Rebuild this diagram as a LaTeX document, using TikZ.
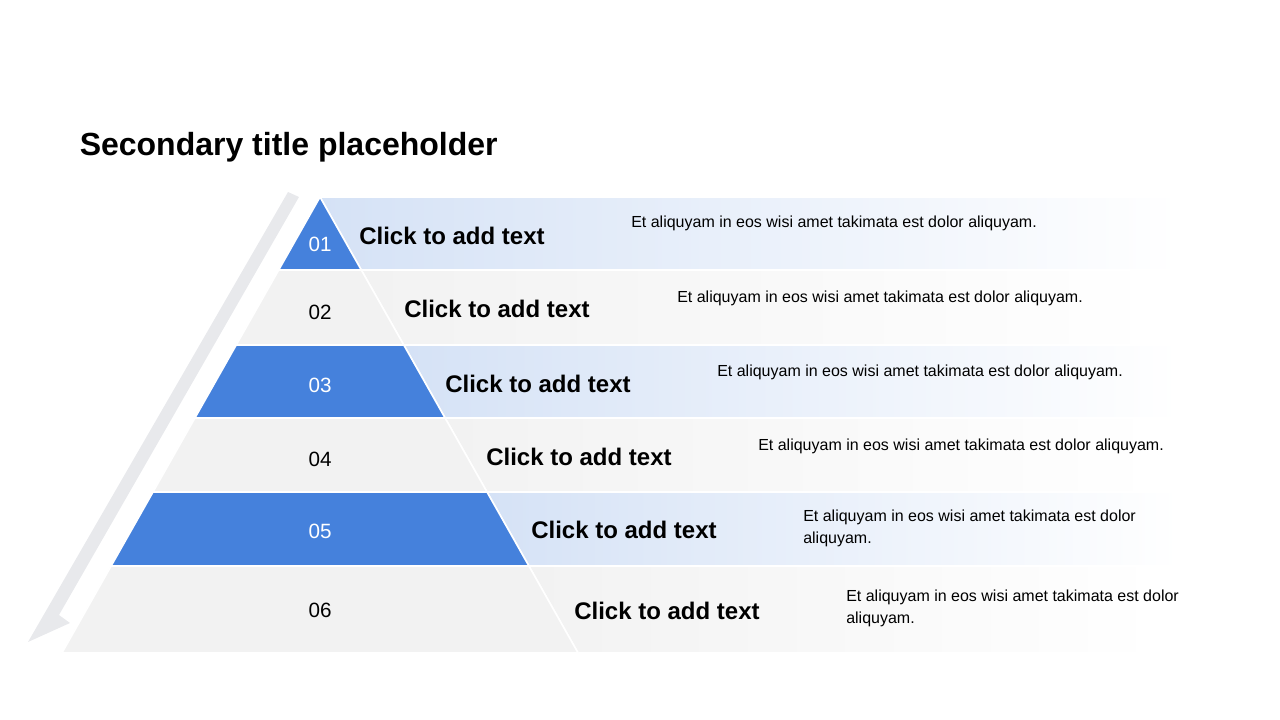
\documentclass[tikz,border=0pt]{standalone}
\usepackage{fontspec}
\setmainfont{Liberation Sans}
\definecolor{pblue}{HTML}{4581DC}
\definecolor{bandblue}{HTML}{D5E2F6}
\definecolor{pgrey}{HTML}{F2F2F2}
\definecolor{bandgrey}{HTML}{F2F2F2}
\definecolor{arrowgrey}{HTML}{E8E9EC}
\begin{document}
\begin{tikzpicture}[x=0.75pt,y=-0.75pt,
  layer/.style={draw=white,line width=1.2pt},
  bluelayer/.style={layer,fill=pblue},
  greylayer/.style={layer,fill=pgrey},
  blueband/.style={draw=white,line width=1.2pt,left color=bandblue,right color=white},
  greyband/.style={draw=white,line width=1.2pt,left color=bandgrey,right color=white},
  num/.style={anchor=base,inner sep=0pt,font=\fontsize{15.5}{18}\selectfont},
  click/.style={anchor=base west,inner sep=0pt,font=\bfseries\fontsize{18}{21}\selectfont},
  desc/.style={anchor=base west,inner sep=0pt,font=\fontsize{12}{14}\selectfont}]
\useasboundingbox (0,0) rectangle (1280,720);
% grey arrow
\fill[arrowgrey] (288,192) -- (299,197) -- (59,615) -- (70,623) -- (28,642) -- cycle;
% bands
\path[blueband] (320,197) -- (1180,197) -- (1180,270) -- (361.3,270) -- cycle;
\path[greyband] (361.3,270) -- (1160,270) -- (1160,345) -- (403.8,345) -- cycle;
\path[blueband] (403.8,345) -- (1180,345) -- (1180,418) -- (445.1,418) -- cycle;
\path[greyband] (445.1,418) -- (1160,418) -- (1160,492) -- (487,492) -- cycle;
\path[blueband] (487,492) -- (1180,492) -- (1180,566) -- (528.9,566) -- cycle;
\path[greyband] (528.9,566) -- (1160,566) -- (1160,653) -- (578.1,653) -- cycle;
% pyramid
\path[bluelayer] (320,197) -- (361.3,270) -- (278.7,270) -- cycle;
\path[greylayer] (278.7,270) -- (361.3,270) -- (403.8,345) -- (236.2,345) -- cycle;
\path[bluelayer] (236.2,345) -- (403.8,345) -- (445.1,418) -- (194.9,418) -- cycle;
\path[greylayer] (194.9,418) -- (445.1,418) -- (487,492) -- (153,492) -- cycle;
\path[bluelayer] (153,492) -- (487,492) -- (528.9,566) -- (111.1,566) -- cycle;
\path[greylayer] (111.1,566) -- (528.9,566) -- (578.1,653) -- (61.9,653) -- cycle;
% title
\node[anchor=base west,inner sep=0pt,font=\bfseries\fontsize{24}{28}\selectfont] (title) at (79.5,156) {Secondary title placeholder};
% numbers
\node[num,text=white] (n1) at (320,251.5) {01};
\node[num] (n2) at (320,319.5) {02};
\node[num,text=white] (n3) at (320,392.5) {03};
\node[num] (n4) at (320,466.5) {04};
\node[num,text=white] (n5) at (320,538.5) {05};
\node[num] (n6) at (320,617.5) {06};
% click texts
\node[click] (c1) at (359,244.5) {Click to add text};
\node[click] (c2) at (404,317.5) {Click to add text};
\node[click] (c3) at (445,392.5) {Click to add text};
\node[click] (c4) at (486,465.5) {Click to add text};
\node[click] (c5) at (531,538.5) {Click to add text};
\node[click] (c6) at (574,619.5) {Click to add text};
% descriptions
\node[desc] (d1) at (631,228) {Et aliquyam in eos wisi amet takimata est dolor aliquyam.};
\node[desc] (d2) at (677,302) {Et aliquyam in eos wisi amet takimata est dolor aliquyam.};
\node[desc] (d3) at (717,376) {Et aliquyam in eos wisi amet takimata est dolor aliquyam.};
\node[desc] (d4) at (758,450) {Et aliquyam in eos wisi amet takimata est dolor aliquyam.};
\node[desc] (d5) at (803,521) {Et aliquyam in eos wisi amet takimata est dolor};
\node[desc] (d5b) at (803,543.5) {aliquyam.};
\node[desc] (d6) at (846,601) {Et aliquyam in eos wisi amet takimata est dolor};
\node[desc] (d6b) at (846,623.5) {aliquyam.};
\end{tikzpicture}
\end{document}
